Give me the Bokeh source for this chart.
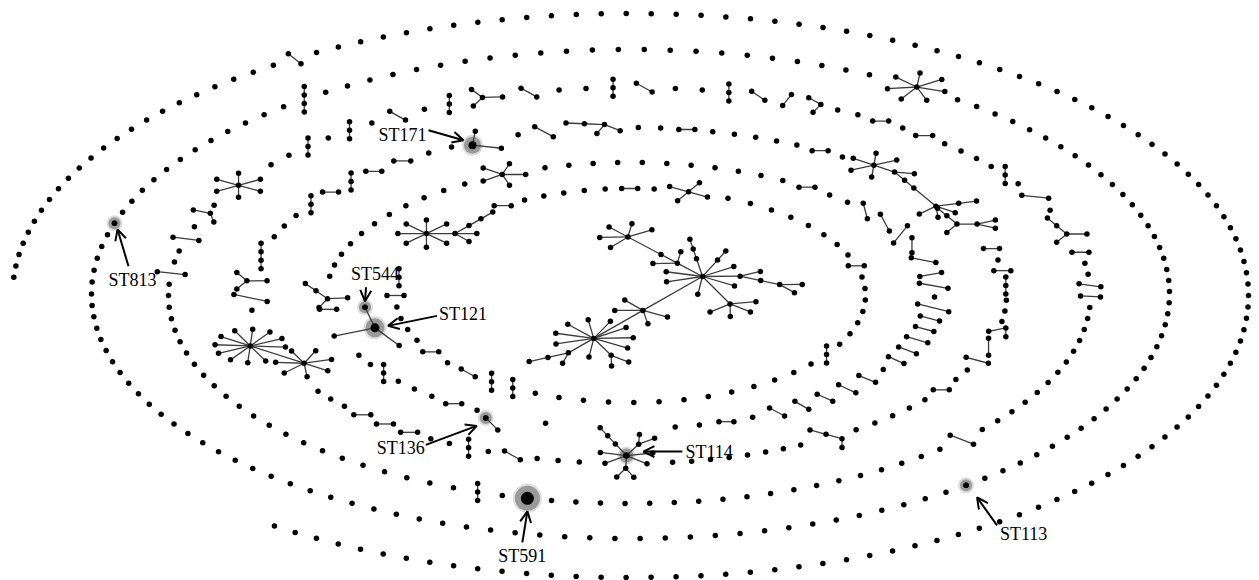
import math
from bokeh.plotting import figure
from bokeh.models import Range1d, Arrow, OpenHead
from bokeh.embed import file_html
from bokeh.resources import INLINE
from bokeh.core.properties import value

# ---------------- data: components met along each ring, clockwise from the left ----------------
# "s" single ST, "pA,L" linked pair, "v3"/"v4" short chains, "t:NAME" a tree below, "#STxxx" a labelled ST
RING0 = ["s"] * 23 + ["p38,16"] + ["s"] * 107
RING1 = (["s"] * 6 + ["s#ST813"] + ["s"] * 12 + ["v4"] + ["s"] * 23 + ["t:star7"]
         + ["s"] * 40 + ["s#ST113"] + ["s"] * 47)
RING2 = (["s", "s", "p6,28", "s", "s", "p7,26", "s", "t:chain3", "s", "t:star6",
          "s", "s", "v3", "s", "v3", "s", "p29,18", "s", "v3", "t:Y4",
          "p29,18", "s", "s", "v3", "p29,18", "s", "s", "v3", "p35,16", "p-51,14",
          "t:V3", "s", "s", "p0,16", "s", "p0,17", "s", "s", "s", "s",
          "v3", "s", "p6,27", "s", "t:tree5a", "p0,17", "s", "s", "p8,22", "p3,20"]
         + ["s"] * 13 + ["p21,25", "s"] + ["s"] * 17 + ["s#ST591", "s", "v3", "s"] + ["s"] * 20)
RING3 = (["s", "p12,34", "t:Y4b", "v4", "s", "s", "s", "v3", "p0,16", "v3",
          "p0,16", "p0,17", "s", "s", "t:ST171", "s", "p28,21", "t:tree5b", "s", "s",
          "p0,16", "s", "s", "s", "s", "s", "p0,16", "s", "t:bigR3", "t:tree7",
          "p0,16", "s", "p0,17", "v3", "s", "s", "s", "t:tree3b", "p90,17", "p15,23",
          "s", "s", "p0,16", "s", "s", "s", "s", "s", "t:tree4b"]
         + ["s"] * 8 + ["gap"]
         + ["s", "s", "s", "p29,18", "s", "v3", "s", "s", "p0,17", "p0,17", "p0,17",
            "s", "s", "s", "t:dstar"])
RING4 = (["t:Y5"] + ["s"] * 11 + ["t:star5"] + ["s"] * 11
         + ["p0,16", "s", "s", "p75,16", "p62,19", "p-51,22", "p90,15", "p11,25", "p-10,22", "p10,29",
            "s", "p14,32", "p15,20", "p15,19", "p16,22", "p21,19", "p24,17", "s", "p22,18", "p25,19",
            "p24,17", "p30,16", "p28,17", "s", "p0,15", "s", "s", "t:ST114", "s", "p45,17#ST136",
            "s", "p0,16", "s", "s", "s", "v3", "s", "s", "t:ST121", "p0,17"])
RING5 = (["p0,17", "v3", "t:C5", "p0,17"] + ["s"] * 5 + ["p0,16", "s", "t:star4"] + ["s"] * 8
         + ["p0,16"] + ["s"] * 7 + ["v3"] + ["s"] * 13 + ["v3", "v3", "p29,16", "s", "p0,16"] + ["s"] * 4)
CORE = ["t:core"]

# trees as parent lists (-1 = root)
TREES = {
    "star7": [-1] + [0] * 7,
    "star6": [-1] + [0] * 6,
    "star5": [-1] + [0] * 5,
    "star4": [-1] + [0] * 4,
    "chain3": [-1, 0, 0],
    "V3": [-1, 0, 0],
    "Y4": [-1, 0, 0, 0],
    "Y4b": [-1, 0, 0, 0],
    "Y5": [-1, 0, 0, 0, 3],
    "tree5a": [-1, 0, 0, 0, 3],
    "tree5b": [-1, 0, 0, 0, 3],
    "tree7": [-1, 0, 1, 1, 0, 0, 5],
    "tree3b": [-1, 0, 0],
    "tree4b": [-1, 0, 0, 2],
    "ST171": [-1, 0, 0],
    "ST121": [-1, 0, 0, 0],
    "ST114": [-1, 0, 0, 2, 2, 0, 0, 0, 7, 8, 0, 10, 10, 0],
    "bigR3": [-1, 0, 1, 1, 3, 4, 5, 6, 5, 5, 5, 0, 0, 0, 0, 0],
    "C5": [-1, 0, 1, 2, 3, 1, 1, 0, 0, 0, 0, 0, 0, 0],
    "dstar": [-1, 0] + [1] * 7 + [0] * 11,
    "core": [-1, 0, 1, 1, 3, 4, 4, 0, 0, 8, 8, 8, 8, 0, 0, 14, 14, 14, 17, 17, 17, 17,
             21, 21, 17, 17, 25, 25, 27, 17, 17, 17, 17, 17, 14, 14, 0, 0, 0, 38, 38,
             40, 41, 41, 41, 41, 41, 38, 0, 48, 49, 0, 51, 0],
}
TREE_LABELS = {"ST171": {0: "ST171"}, "ST121": {0: "ST121", 3: "ST544"}, "ST114": {0: "ST114"}}

# ---------------- layout / style ----------------
SX = 2.1  # horizontal stretch of the drawing
TREE_ORIENT = {  # (rotation of first child, arc spread or None, edge scale)
    "star7": (19, None, 1.1), "star6": (30, None, 1), "star5": (0, None, 1), "star4": (30, None, 1),
    "chain3": (141, 124, 1), "V3": (172, 114, 1), "Y4": (357, None, 1), "Y4b": (0, None, 1),
    "Y5": (-5, None, 1), "tree5a": (0, None, 1), "tree5b": (112, 146, 1), "tree7": (0, None, 1),
    "tree3b": (124, 68, 1), "tree4b": (150, 120, 1), "ST171": (-36, 97, 1.6), "ST121": (157, 200, 2.2),
    "ST114": (40, None, 1), "bigR3": (35, None, 1), "C5": (0, None, 1), "dstar": (34, None, 1),
    "core": (-1, None, 1.12),
}
SHIFT = {"ST114": 24, "ST121": -30, "ST136": 12}
GAP_W = 3.6
RING_GEOM = [
    dict(cx=630, cy=295, a=618, b=282, phi0=3.7, step=2.318),
    dict(cx=630, cy=293.5, a=539, b=244.5, phi0=0.0),
    dict(cx=629, cy=295, a=461, b=208, phi0=0.0),
    dict(cx=628, cy=295, a=378, b=168, phi0=-5.0),
    dict(cx=630, cy=295, a=304, b=133, phi0=0.0),
    dict(cx=630, cy=295, a=235, b=107, phi0=0.0),
]
RING_PINS = [  # angular positions (deg) of a few landmarks along each ring
    {},
    {"ST813": 16.8, "star7": 122.0, "ST113": 231.5},
    {"star6": 32.0, "Y4": 72.0, "V3": 113.7, "tree5a": 161.7, "ST591": 282.8},
    {"ST171": 68.0, "bigR3": 139.0, "tree7": 153.4, "tree4b": 238.5, "gap": 270.0, "dstar": 340.0},
    {"star5": 65.5, "ST114": 270.5, "ST136": 295.3, "ST121": 345.0},
    {"C5": 38.0, "star4": 104.3},
]
CORE_ROOT = (702, 276)


def tree_layout(parents, rot, arc, scale):
    n = len(parents)
    kids = [[] for _ in range(n)]
    for i, p in enumerate(parents):
        if p >= 0:
            kids[p].append(i)
    size = [1] * n
    for i in reversed(range(n)):
        if parents[i] >= 0:
            size[parents[i]] += size[i]
    pos = [None] * n
    pos[0] = (0.0, 0.0)

    def place(i, d):
        ch = kids[i]
        m = len(ch)
        if not m:
            return
        if parents[i] < 0:
            if arc is None:
                angs = [rot + 360.0 * k / m for k in range(m)]
            elif m == 1:
                angs = [rot]
            else:
                angs = [rot - arc / 2 + arc * k / (m - 1) for k in range(m)]
        else:
            if m == 1:
                angs = [d]
            else:
                w = min(50.0 * (m - 1), 360.0 * m / (m + 1))
                angs = [d - w / 2 + w * k / (m - 1) for k in range(m)]
        deg = m + (1 if parents[i] >= 0 else 0)
        l0 = 8 + 0.8 * (deg - 1)
        for c, a in zip(ch, angs):
            ln = (l0 + (5 * math.sqrt(size[c]) if len(kids[c]) >= 4 else 0)) * scale
            r = math.radians(a)
            pos[c] = (pos[i][0] + ln * math.cos(r), pos[i][1] + ln * math.sin(r))
            place(c, a)

    place(0, 0)
    nodes = [(x * SX, y) for x, y in pos]
    edges = [(p, i) for i, p in enumerate(parents) if p >= 0]
    return nodes, edges


def comp_id(code):
    if "#" in code:
        return code.split("#")[1]
    if code.startswith("t:"):
        return code[2:]
    return code


def component(code, center=True):
    label = None
    if "#" in code:
        code, label = code.split("#")
    labels = {}
    if code == "s":
        nodes, edges = [(0.0, 0.0)], []
        if label:
            labels = {0: label}
    elif code == "gap":
        return [], [], {}
    elif code[0] == "p":
        a, ln = [float(v) for v in code[1:].split(",")]
        r = math.radians(a)
        dx, dy = ln / 2 * math.cos(r), ln / 2 * math.sin(r)
        nodes, edges = [(-dx, -dy), (dx, dy)], [(0, 1)]
        if label:
            labels = {0: label}
    elif code[0] == "v":
        k = int(code[1])
        nodes = [(0.0, 8.5 * i) for i in range(k)]
        edges = [(i, i + 1) for i in range(k - 1)]
    else:
        name = code[2:]
        rot, arc, sc = TREE_ORIENT[name]
        nodes, edges = tree_layout(TREES[name], rot, arc, sc)
        labels = TREE_LABELS.get(name, {})
    if center:
        xs = [x for x, _ in nodes]
        ys = [y for _, y in nodes]
        mx, my = (min(xs) + max(xs)) / 2, (min(ys) + max(ys)) / 2
        nodes = [(x - mx, y - my) for x, y in nodes]
    return nodes, edges, labels


ALL_X, ALL_Y, EX0, EY0, EX1, EY1 = [], [], [], [], [], []
LABELLED = {}


def add(nodes, edges, labels, ax, ay):
    pts = [(ax + x, ay + y) for x, y in nodes]
    for i, j in edges:
        EX0.append(pts[i][0]); EY0.append(pts[i][1]); EX1.append(pts[j][0]); EY1.append(pts[j][1])
    for x, y in pts:
        ALL_X.append(x); ALL_Y.append(y)
    for k, lab in labels.items():
        LABELLED[lab] = pts[k]


def ring_angles(codes, comps, g, pins):
    n = len(comps)
    widths = [GAP_W if not c[0] else 1.0 for c in comps]
    phis, cums = [], []
    for _ in range(6):
        step = g.get("step") or 360.0 / sum(widths)
        phis, cums, cum = [], [], 0.0
        for i in range(n):
            if i > 0:
                cum += (widths[i - 1] + widths[i]) / 2
            cums.append(cum)
            phis.append(g["phi0"] + step * cum)
        new = []
        for (nodes, _, _), ph in zip(comps, phis):
            if not nodes:
                new.append(GAP_W)
                continue
            r = math.radians(ph)
            tx, ty = g["a"] * math.sin(r), -g["b"] * math.cos(r)
            tl = math.hypot(tx, ty)
            ux, uy = tx / tl, ty / tl
            proj = [x * ux + y * uy for x, y in nodes]
            ext = max(proj) - min(proj)
            slot = tl * math.radians(step)
            new.append(1.0 + max(0.0, ext - 8.0) / slot)
        widths = new
    if g.get("step"):
        return phis
    # pin landmarks, interpolate the rest
    total = cums[-1] + (widths[-1] + widths[0]) / 2
    knots = [(0.0, g["phi0"])]
    for i, code in enumerate(codes):
        cid = comp_id(code)
        if cid in pins:
            knots.append((cums[i], pins[cid]))
    knots.append((total, g["phi0"] + 360.0))
    out = []
    for c in cums:
        for (c0, p0), (c1, p1) in zip(knots[:-1], knots[1:]):
            if c0 <= c <= c1:
                out.append(p0 + (p1 - p0) * (c - c0) / (c1 - c0) if c1 > c0 else p0)
                break
    return out


RINGS = [RING0, RING1, RING2, RING3, RING4, RING5]
for codes, g, pins in zip(RINGS, RING_GEOM, RING_PINS):
    comps = [component(c) for c in codes]
    phis = ring_angles(codes, comps, g, pins)
    for code, (nodes, edges, labels), ph in zip(codes, comps, phis):
        if not nodes:
            continue
        phi = math.radians(ph)
        ax = g["cx"] - g["a"] * math.cos(phi)
        ay = g["cy"] - g["b"] * math.sin(phi)
        cid = comp_id(code)
        if cid in SHIFT:
            vx, vy = ax - g["cx"], ay - g["cy"]
            nn = math.hypot(vx, vy)
            ax += SHIFT[cid] * vx / nn
            ay += SHIFT[cid] * vy / nn
        add(nodes, edges, labels, ax, ay)

for code in CORE:
    nodes, edges, labels = component(code, center=False)
    add(nodes, edges, labels, CORE_ROOT[0], CORE_ROOT[1])

# ---------------- drawing ----------------
p = figure(width=1259, height=580, x_range=Range1d(0, 1259), y_range=Range1d(580, 0),
           x_axis_type=None, y_axis_type=None, output_backend="svg",
           toolbar_location=None, min_border=0)
p.outline_line_color = None
p.background_fill_color = "white"
p.border_fill_color = "white"

HALO = {"ST591": (25, 13), "ST121": (19, 9), "ST171": (17, 8), "ST114": (14, 6.5)}
LABEL_STYLE = {
    "ST813": dict(text=(18, 57), align="center", tail=(14, 43), head=(3, 6)),
    "ST171": dict(text=(-46, -10), align="right", tail=(-44, -15), head=(-9, -5)),
    "ST544": dict(text=(10, -33), align="center", tail=(1, -20), head=(0, -6)),
    "ST121": dict(text=(64, -14), align="left", tail=(62, -12), head=(13, -2)),
    "ST136": dict(text=(-61, 30), align="right", tail=(-60, 27), head=(-9, 8)),
    "ST114": dict(text=(59, -4), align="left", tail=(56, -4), head=(17, -4)),
    "ST591": dict(text=(-5, 58), align="center", tail=(-5, 44), head=(0, 13)),
    "ST113": dict(text=(34, 49), align="left", tail=(31, 40), head=(11, 12)),
}

hx = [LABELLED[k][0] for k in LABEL_STYLE]
hy = [LABELLED[k][1] for k in LABEL_STYLE]
hs = [HALO.get(k, (12, 5.5))[0] for k in LABEL_STYLE]
ds = [HALO.get(k, (12, 5.5))[1] for k in LABEL_STYLE]
p.scatter(hx, hy, size=[s + 4 for s in hs], fill_color="#9a9a9a", fill_alpha=0.35, line_color=None)
p.scatter(hx, hy, size=hs, fill_color="#6e6e6e", fill_alpha=0.6, line_color=None)

p.segment(EX0, EY0, EX1, EY1, line_color="#3c3c3c", line_width=1.3)
p.scatter(ALL_X, ALL_Y, size=5.5, fill_color="black", line_color=None)
p.scatter(hx, hy, size=ds, fill_color="black", line_color=None)

for lab, st in LABEL_STYLE.items():
    nx, ny = LABELLED[lab]
    p.text(x=[nx + st["text"][0]], y=[ny + st["text"][1]], text=[lab],
           text_font=value("Liberation Serif"), text_font_size="18px",
           text_align=st["align"], text_baseline="middle", text_color="black")
    p.add_layout(Arrow(end=OpenHead(size=11, line_width=2, line_color="black"),
                       x_start=nx + st["tail"][0], y_start=ny + st["tail"][1],
                       x_end=nx + st["head"][0], y_end=ny + st["head"][1],
                       line_width=2, line_color="black"))

open("out.html", "w").write(file_html(p, INLINE))
